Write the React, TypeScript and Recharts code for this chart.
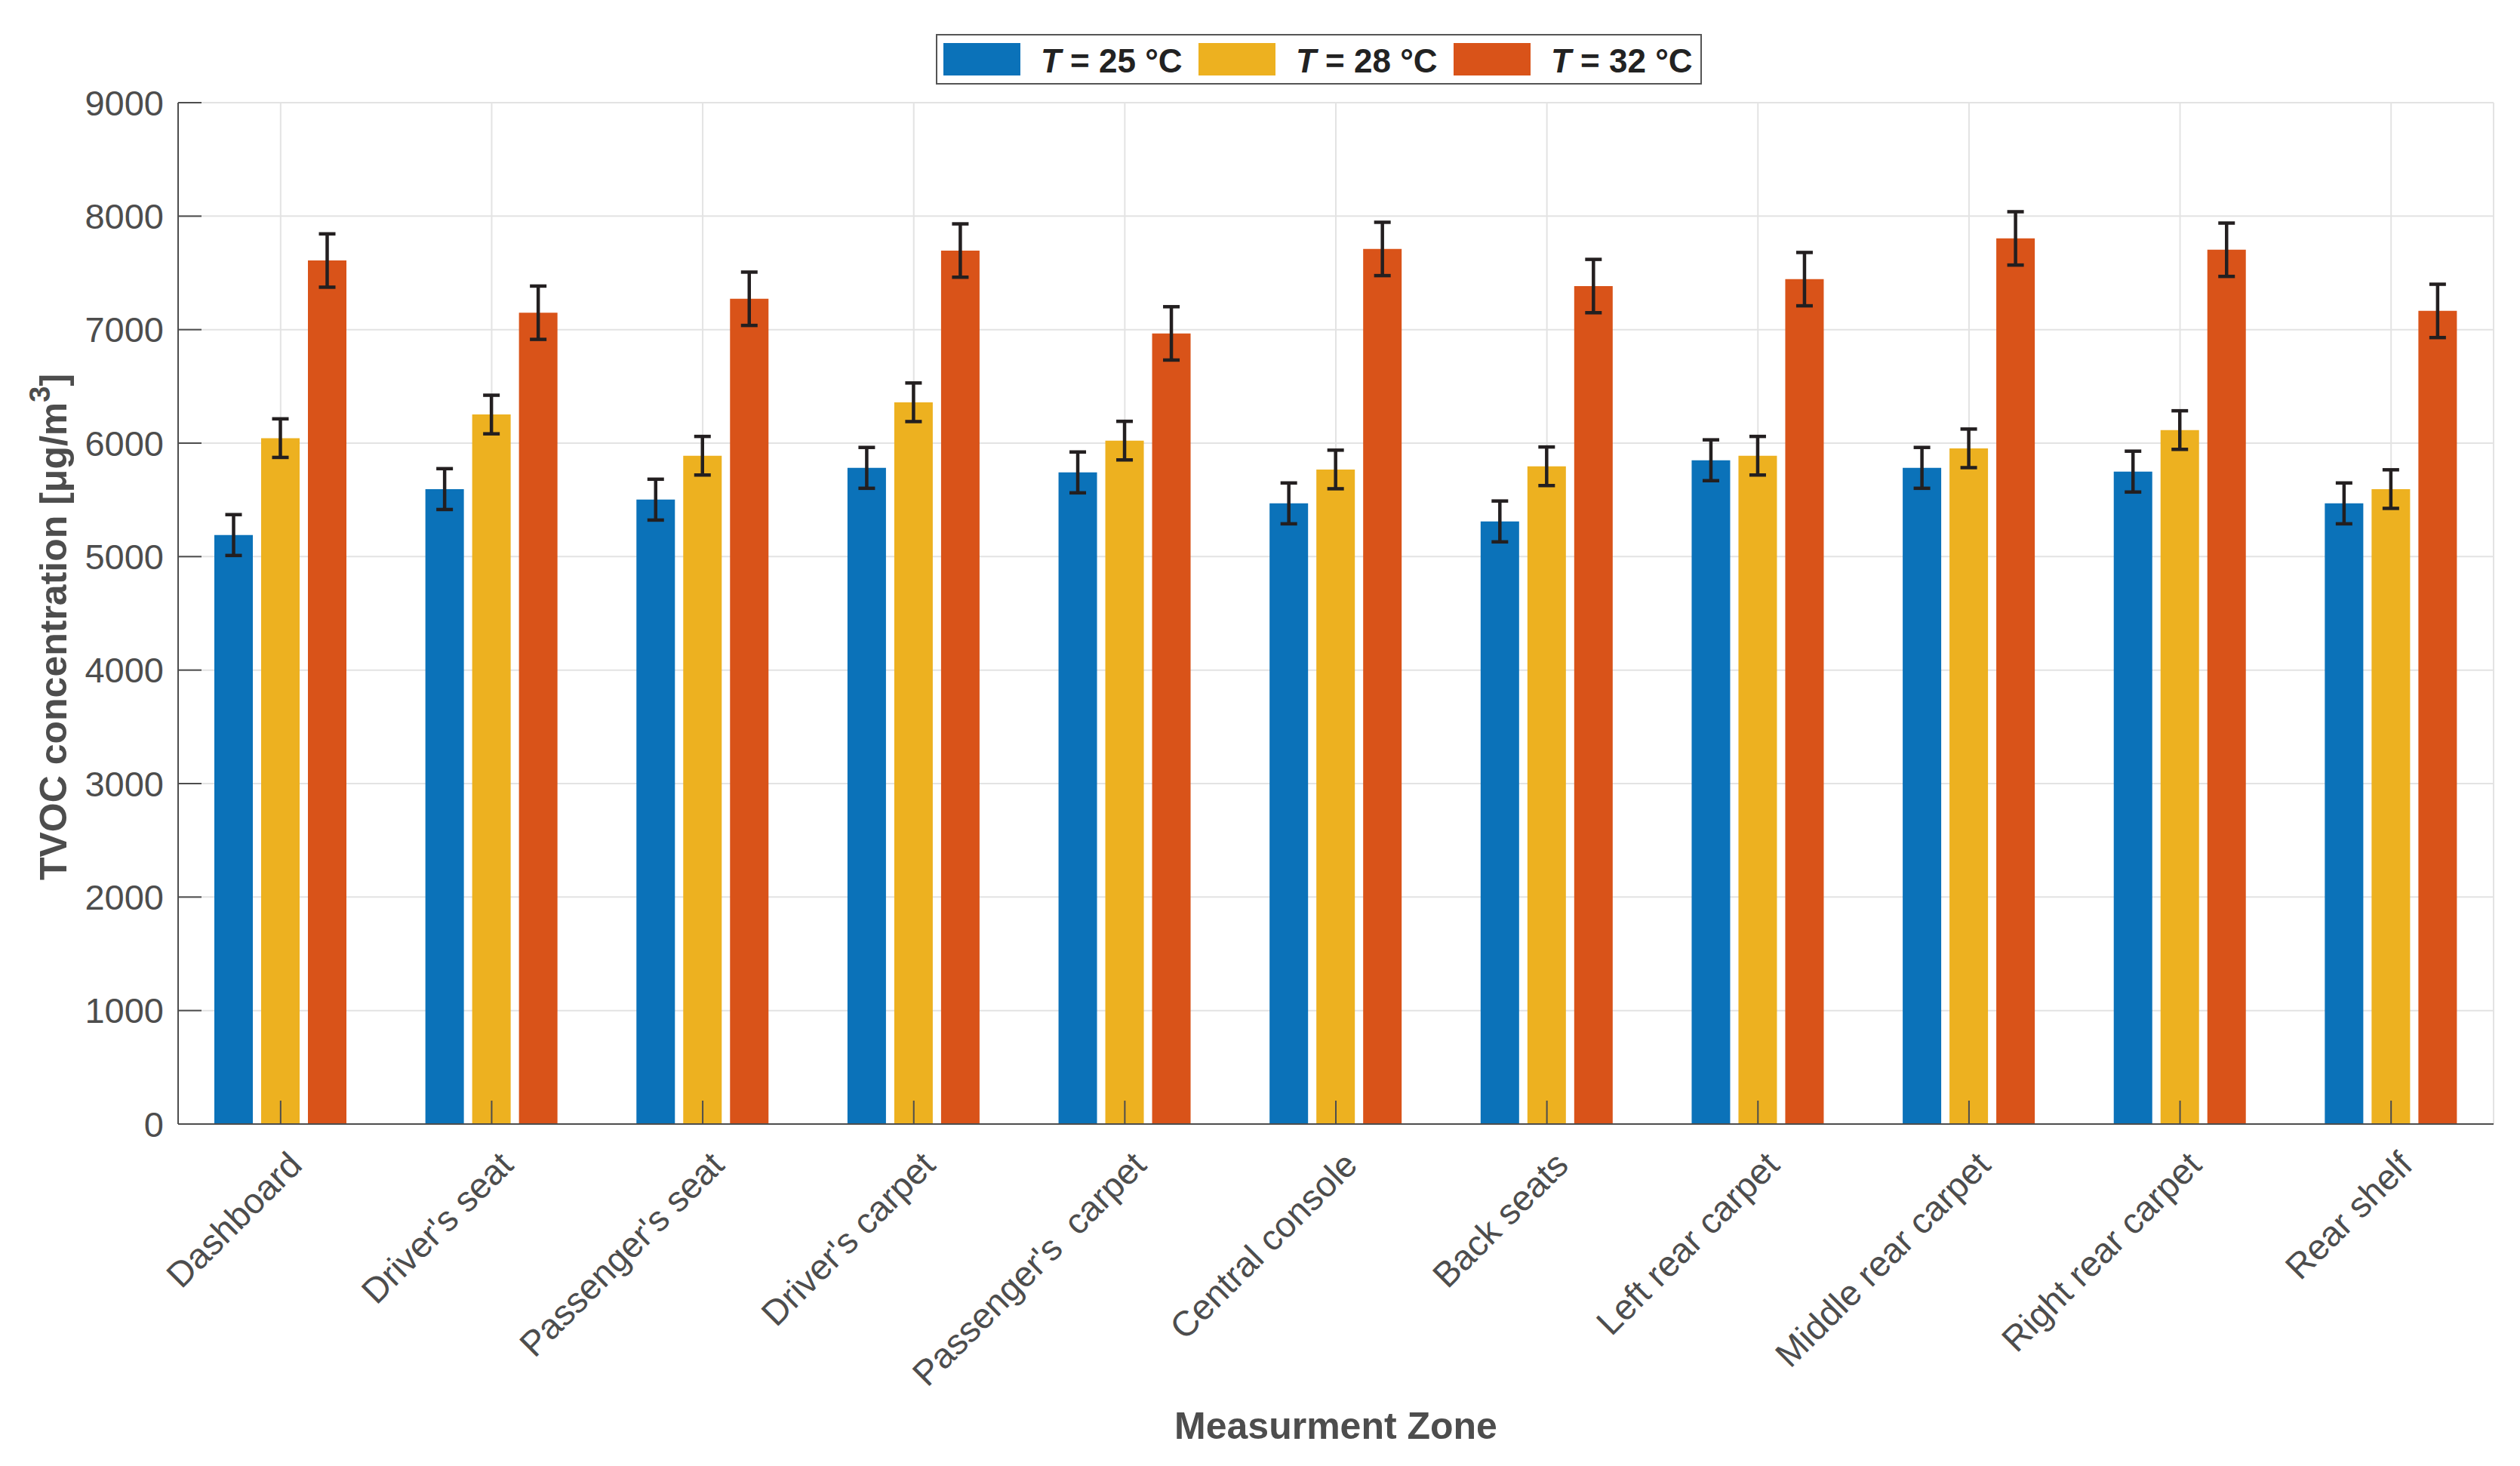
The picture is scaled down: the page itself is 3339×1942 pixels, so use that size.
import React from 'react';
import { BarChart, Bar, XAxis, YAxis, CartesianGrid, ErrorBar, Legend } from 'recharts';

const zones = [
  'Dashboard',
  "Driver's seat",
  "Passenger's seat",
  "Driver's carpet",
  "Passenger's  carpet",
  'Central console',
  'Back seats',
  'Left rear carpet',
  'Middle rear carpet',
  'Right rear carpet',
  'Rear shelf',
];

const seriesNames = ['T = 25 °C', 'T = 28 °C', 'T = 32 °C'];
const seriesColors = ['#0B72B9', '#EDB120', '#D95319'];

const t25 = [5190, 5595, 5502, 5782, 5742, 5469, 5310, 5849, 5782, 5749, 5469];
const t28 = [6044, 6252, 5889, 6360, 6022, 5768, 5796, 5889, 5954, 6115, 5595];
const t32 = [7609, 7149, 7272, 7697, 6967, 7711, 7384, 7445, 7804, 7704, 7165];

const err25 = [180, 180, 180, 180, 180, 180, 180, 180, 180, 180, 180];
const err28 = [170, 170, 170, 170, 170, 170, 170, 170, 170, 170, 170];
const err32 = [235, 235, 235, 235, 235, 235, 235, 235, 235, 235, 235];

const yTicks = [0, 1000, 2000, 3000, 4000, 5000, 6000, 7000, 8000, 9000];

const data = zones.map((zone, i) => ({
  zone,
  t25: t25[i],
  t28: t28[i],
  t32: t32[i],
  e25: err25[i],
  e28: err28[i],
  e32: err32[i],
}));

const FONT = '"Liberation Sans", Arial, Helvetica, sans-serif';
const AXIS = '#4d4d4d';
const TEXT = '#4d4d4d';

const EmptyTick = () => <g />;

const XTick = (props: any) => {
  const { x, y, payload } = props;
  const ax = x + 31;
  const ay = y + 57;
  return (
    <text
      x={ax}
      y={ay}
      textAnchor="end"
      transform={`rotate(-45 ${ax} ${ay})`}
      fontSize={47}
      fill={TEXT}
      fontFamily={FONT}
      style={{ whiteSpace: 'pre' }}
    >
      {payload.value}
    </text>
  );
};

const YLabel = (props: any) => {
  const vb = props.viewBox || { x: 0, y: 136, width: 236, height: 1353 };
  const cx = vb.x + 88;
  const cy = vb.y + vb.height / 2 + 18;
  return (
    <text
      x={cx}
      y={cy}
      transform={`rotate(-90 ${cx} ${cy})`}
      textAnchor="middle"
      fontSize={50}
      fontWeight="bold"
      fill={TEXT}
      fontFamily={FONT}
    >
      TVOC concentration [μg/m
      <tspan dy={-22} fontSize={38}>3</tspan>
      <tspan dy={22}>]</tspan>
    </text>
  );
};

const XLabel = (props: any) => {
  const vb = props.viewBox || { x: 236, y: 1489, width: 3068, height: 453 };
  const cx = vb.x + vb.width / 2;
  const cy = vb.y + 417;
  return (
    <text x={cx} y={cy} textAnchor="middle" fontSize={50} fontWeight="bold" fill={TEXT} fontFamily={FONT}>
      Measurment Zone
    </text>
  );
};

const renderLegend = (props: any) => {
  const payload = props.payload || [];
  return (
    <div
      style={{
        boxSizing: 'border-box',
        width: 1015,
        height: 67,
        border: '2px solid #555555',
        background: '#ffffff',
        display: 'flex',
        alignItems: 'center',
        paddingLeft: 8,
        fontFamily: FONT,
      }}
    >
      {payload.map((p: any, i: number) => {
        const name = String(p.value);
        return (
          <div key={i} style={{ display: 'flex', alignItems: 'center', width: 338, flex: '0 0 338px' }}>
            <div style={{ width: 102, height: 43, background: p.color, marginRight: 27 }} />
            <span
              style={{
                fontSize: 44,
                fontWeight: 'bold',
                color: '#222222',
                whiteSpace: 'pre',
                lineHeight: 1.15,
                marginTop: 6,
              }}
            >
              <i>{name.slice(0, 1)}</i>
              {name.slice(1)}
            </span>
          </div>
        );
      })}
    </div>
  );
};

export default function App() {
  return (
    <div style={{ position: 'absolute', left: 0, top: 0, width: 3339, height: 1942, background: '#fff', fontFamily: FONT }}>
      <BarChart
        width={3339}
        height={1942}
        data={data}
        margin={{ top: 136, right: 35, bottom: 0, left: 0 }}
        barSize={51}
        barGap={11}
      >
        <CartesianGrid stroke="#e3e3e3" strokeWidth={2} vertical={true} horizontal={true} />
        <Legend
          layout="horizontal"
          verticalAlign="middle"
          align="center"
          wrapperStyle={{ top: 45, left: 1240, width: 1015, height: 67 }}
          content={renderLegend}
        />
        <Bar dataKey="t25" name={seriesNames[0]} fill={seriesColors[0]} isAnimationActive={false}>
          <ErrorBar dataKey="e25" width={11} strokeWidth={4.5} stroke="#231f20" direction="y" isAnimationActive={false} />
        </Bar>
        <Bar dataKey="t28" name={seriesNames[1]} fill={seriesColors[1]} isAnimationActive={false}>
          <ErrorBar dataKey="e28" width={11} strokeWidth={4.5} stroke="#231f20" direction="y" isAnimationActive={false} />
        </Bar>
        <Bar dataKey="t32" name={seriesNames[2]} fill={seriesColors[2]} isAnimationActive={false}>
          <ErrorBar dataKey="e32" width={11} strokeWidth={4.5} stroke="#231f20" direction="y" isAnimationActive={false} />
        </Bar>
        <XAxis
          dataKey="zone"
          height={453}
          interval={0}
          padding={{ left: -4, right: -4 }}
          tickSize={-31}
          tickMargin={31}
          tick={<XTick />}
          axisLine={{ stroke: AXIS, strokeWidth: 2 }}
          tickLine={{ stroke: AXIS, strokeWidth: 2 }}
          label={<XLabel />}
        />
        <XAxis
          xAxisId="top"
          dataKey="zone"
          orientation="top"
          height={0}
          interval={0}
          padding={{ left: -4, right: -4 }}
          tickSize={-31}
          tick={EmptyTick}
          axisLine={{ stroke: AXIS, strokeWidth: 2 }}
          tickLine={{ stroke: AXIS, strokeWidth: 2 }}
        />
        <YAxis
          width={236}
          domain={[0, 9000]}
          ticks={yTicks}
          interval={0}
          tickSize={-31}
          tickMargin={50}
          tick={{ fontSize: 47, fill: TEXT, fontFamily: FONT }}
          axisLine={{ stroke: AXIS, strokeWidth: 2 }}
          tickLine={{ stroke: AXIS, strokeWidth: 2 }}
          label={<YLabel />}
        />
        <YAxis
          yAxisId="right"
          orientation="right"
          width={0}
          domain={[0, 9000]}
          ticks={yTicks}
          interval={0}
          tickSize={-31}
          tick={EmptyTick}
          axisLine={{ stroke: AXIS, strokeWidth: 2 }}
          tickLine={{ stroke: AXIS, strokeWidth: 2 }}
        />
      </BarChart>
    </div>
  );
}
